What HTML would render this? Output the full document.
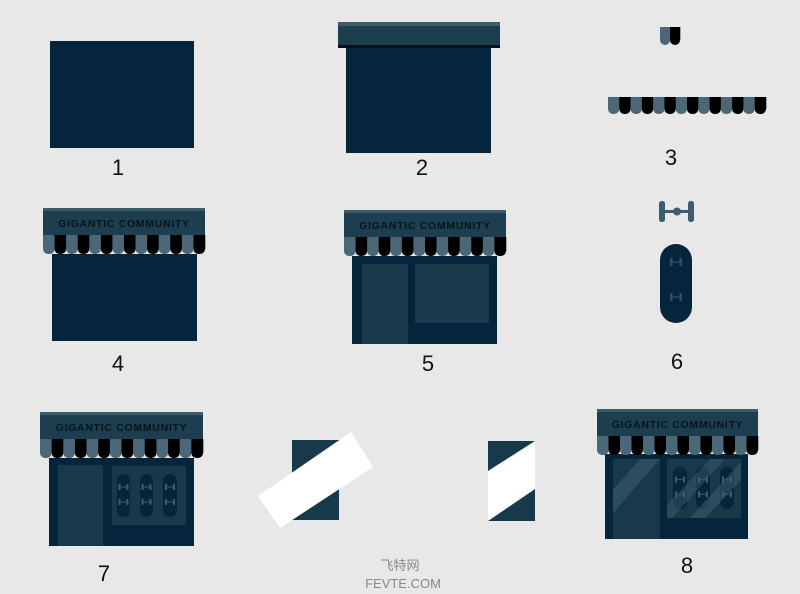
<!DOCTYPE html>
<html><head><meta charset="utf-8"><style>
html,body{margin:0;padding:0;background:#e8e8e8;}
svg{display:block}
text{font-family:"Liberation Sans","Noto Sans CJK SC",sans-serif}
</style></head><body>
<svg id="s" width="800" height="594" viewBox="0 0 800 594" xmlns="http://www.w3.org/2000/svg">
<rect width="800" height="594" fill="#e8e8e8"/>
<rect x="50" y="41" width="144" height="107" fill="#04253b"/>
<text x="118" y="175" font-size="22" text-anchor="middle" fill="#111">1</text>
<rect x="346" y="47" width="145" height="106" fill="#04253b"/>
<rect x="338" y="22" width="162" height="25" fill="#1c3e4f"/>
<rect x="338" y="22" width="162" height="4" fill="#3d5c6a"/>
<rect x="338" y="45" width="162" height="3" fill="#06121a"/>
<text x="422" y="175" font-size="22" text-anchor="middle" fill="#111">2</text>
<text x="671" y="165" font-size="22" text-anchor="middle" fill="#111">3</text>
<text x="118" y="371" font-size="22" text-anchor="middle" fill="#111">4</text>
<text x="428" y="371" font-size="22" text-anchor="middle" fill="#111">5</text>
<text x="677" y="369" font-size="22" text-anchor="middle" fill="#111">6</text>
<text x="104" y="581" font-size="22" text-anchor="middle" fill="#111">7</text>
<text x="687" y="573" font-size="22" text-anchor="middle" fill="#111">8</text>
<rect x="659" y="201" width="6" height="21" rx="2.5" fill="#3e5d70"/>
<rect x="688" y="201" width="6" height="21" rx="2.5" fill="#3e5d70"/>
<rect x="663" y="210" width="27" height="3" fill="#3e5d70"/>
<circle cx="677" cy="211.5" r="4" fill="#3e5d70"/>
<rect x="660" y="244" width="32" height="79" rx="16" fill="#04253b"/>
<rect x="292" y="440" width="47" height="80" fill="#163a4a"/>
<polygon points="258,496 351,432 373,467 280,528" fill="#fff"/>
<rect x="488" y="441" width="47" height="80" fill="#163a4a"/>
<polygon points="535,441 535,489 488,521 488,471" fill="#fff"/>
<text x="400" y="570" font-size="13" text-anchor="middle" fill="#888">飞特网</text>
<text x="403" y="588" font-size="13" text-anchor="middle" fill="#888">FEVTE.COM</text>
</svg>
<script>
var NS="http://www.w3.org/2000/svg";
function el(p,t,a){var e=document.createElementNS(NS,t);for(var k in a)e.setAttribute(k,a[k]);p.appendChild(e);return e;}
var S=document.getElementById('s');
function stripes(x,y,w,h,n,start){
  var sw=w/n;
  for(var i=0;i<n;i++){
    var light=((i+start)%2==0);
    var c=light?"#4c6778":"#000";
    var xx=x+i*sw;
    el(S,'rect',{x:xx,y:y,width:sw+0.3,height:h-5,fill:c});
    el(S,'rect',{x:xx,y:y+h-10,width:sw,height:10,rx:Math.min(5,sw/2),fill:c});
  }
}
function board(x,y,w,h,fill,mark){
  el(S,'rect',{x:x,y:y,width:w,height:h,rx:w/2,fill:fill});
  [0.3,0.65].forEach(function(f){
    var cy=y+h*f, cx=x+w/2;
    el(S,'rect',{x:cx-5,y:cy-3,width:2,height:6,fill:mark});
    el(S,'rect',{x:cx+3,y:cy-3,width:2,height:6,fill:mark});
    el(S,'rect',{x:cx-4,y:cy-0.5,width:8,height:1,fill:mark});
  });
}
stripes(660,27,20,18,2,0);
stripes(608,97,158,17,14,0);
(function(){var m="#2e4d60";[262,297].forEach(function(cy){var cx=676;
el(S,'rect',{x:cx-6,y:cy-4,width:2.5,height:8,fill:m});el(S,'rect',{x:cx+3.5,y:cy-4,width:2.5,height:8,fill:m});el(S,'rect',{x:cx-4,y:cy-0.7,width:8,height:1.4,fill:m});});})();
function store(o){
  el(S,'rect',{x:o.bx,y:o.by,width:o.bw,height:o.bh,fill:"#04253b"});
  el(S,'rect',{x:o.ax,y:o.ay,width:o.aw,height:27,fill:"#1c3e4f"});
  el(S,'rect',{x:o.ax,y:o.ay,width:o.aw,height:3,fill:"#3d5c6a"});
  var t=el(S,'text',{x:o.ax+o.aw/2,y:o.ay+19,'font-size':10.5,'font-weight':'bold','text-anchor':'middle',fill:'#06141d','letter-spacing':'0.7'});
  t.textContent="GIGANTIC COMMUNITY";
  stripes(o.ax,o.ay+27,o.aw,19,14,0);
  if(o.door){el(S,'rect',{x:o.door[0],y:o.door[1],width:o.door[2],height:o.door[3],fill:"#17394a"});}
  if(o.win){el(S,'rect',{x:o.win[0],y:o.win[1],width:o.win[2],height:o.win[3],fill:"#17394a"});}
  if(o.boards){o.boards.forEach(function(b){board(b[0],b[1],b[2],b[3],"#04253b","#3e5d70");});}
}
store({ax:43,ay:208,aw:162,bx:52,by:254,bw:145,bh:87});
store({ax:344,ay:210,aw:162,bx:352,by:256,bw:145,bh:88,door:[362,264,46,80],win:[415,264,74,59]});
store({ax:40,ay:412,aw:163,bx:49,by:458,bw:145,bh:88,door:[58,465,45,81],win:[112,466,74,59],
  boards:[[117,474,13,43],[140,474,13,43],[163,474,14,43]]});
store({ax:597,ay:409,aw:161,bx:605,by:454,bw:143,bh:85,door:[613,459,47,80],win:[667,459,74,59],
  boards:[[673,467,14,42],[696,467,14,42],[720,467,14,42]]});
el(S,'polygon',{points:"613,490 640,459 660,459 613,513",fill:"#3a5c6a",opacity:0.6});
el(S,'polygon',{points:"690,518 741,462 741,480 705,518",fill:"#3a5c6a",opacity:0.6});
el(S,'polygon',{points:"667,505 710,459 725,459 672,518 667,518",fill:"#3a5c6a",opacity:0.5});
</script>
</body></html>
